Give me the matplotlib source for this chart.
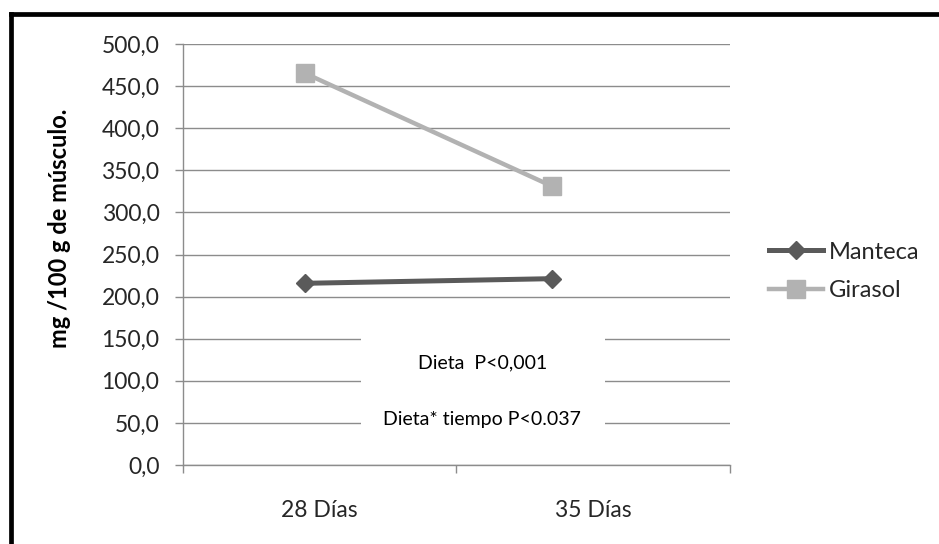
import numpy as np
import matplotlib.pyplot as plt
from matplotlib.lines import Line2D
from matplotlib.patches import Rectangle
from matplotlib.ticker import FixedLocator, FuncFormatter
import matplotlib
matplotlib.rcParams.update({'font.family': ['Lato', 'DejaVu Sans']})

# Datos: mg / 100 g de musculo
categorias = ['28 Días', '35 Días']
manteca = [215.8, 221.3]
girasol = [465.2, 331.4]
series = ['Manteca', 'Girasol']
notas = ['Dieta  P<0,001', 'Dieta* tiempo P<0.037']

gris = '#8c8c8c'
texto = '#262626'

fig = plt.figure(figsize=(9.39, 5.44), dpi=100)
ax = fig.add_axes([0.1949, 0.1452, 0.5825, 0.7739])

# Eje de categorias
ax.set_xlim(-0.5, 1.5)
ax.set_ylim(0, 500)
ax.xaxis.set_major_locator(FixedLocator([0, 1]))
ax.xaxis.set_minor_locator(FixedLocator([-0.5, 0.5, 1.5]))
ax.set_xticklabels(categorias)
ax.tick_params(axis='x', which='major', length=0, pad=25, labelsize=16.5, labelcolor=texto)
ax.tick_params(axis='x', which='minor', length=6, width=1, color=gris, direction='out')

ax.set_yticks(np.arange(0, 501, 50))
ax.yaxis.set_major_formatter(FuncFormatter(lambda v, p: f'{v:.1f}'.replace('.', ',')))
ax.tick_params(axis='y', length=6, width=1, color=gris, pad=11, labelsize=16.5, labelcolor=texto)
ax.grid(axis='y', color=gris, lw=1)
ax.set_axisbelow(True)
for lado in ['top', 'right']:
    ax.spines[lado].set_visible(False)
for lado in ['left', 'bottom']:
    ax.spines[lado].set_color(gris)
    ax.spines[lado].set_linewidth(1)

# Cuadro de texto con la significancia
ax.add_patch(Rectangle((0.325, 0.0475), 0.446, 0.2565, transform=ax.transAxes,
                       facecolor='white', edgecolor='none', zorder=2))
ax.text(0.547, 0.242, notas[0], transform=ax.transAxes, ha='center', va='center',
        fontsize=14, color='black', zorder=3)
ax.text(0.547, 0.109, notas[1], transform=ax.transAxes, ha='center', va='center',
        fontsize=14, color='black', zorder=3)

# Series en un eje superpuesto
axd = ax.twiny()
axd.set_xlim(-0.495, 1.724)
axd.set_ylim(0, 500)
axd.axis('off')
x = np.arange(len(categorias))
axd.plot(x, manteca, color='#5a5a5a', lw=3.6, marker='D', ms=9.5, label=series[0], zorder=4)
axd.plot(x, girasol, color='#b2b2b2', lw=3.2, marker='s', ms=13, label=series[1], zorder=4)

axd.legend(loc='center left', bbox_to_anchor=(0.819, 0.501), bbox_transform=fig.transFigure,
           frameon=False, fontsize=17, handlelength=2.3, handletextpad=0.25,
           labelspacing=0.75, borderpad=0, borderaxespad=0, labelcolor=texto)

fig.text(0.063, 0.58, 'mg /100 g de músculo.', rotation=90, ha='center', va='center',
         fontsize=17, fontweight='bold', color='black')

# Marco exterior
fig.add_artist(Line2D([0.0117, 1.0], [0.974, 0.974], transform=fig.transFigure, color='black', lw=3.4))
fig.add_artist(Line2D([0.0117, 0.0117], [0.0, 0.974], transform=fig.transFigure, color='black', lw=3.4))

plt.savefig('out.png', dpi=100)
